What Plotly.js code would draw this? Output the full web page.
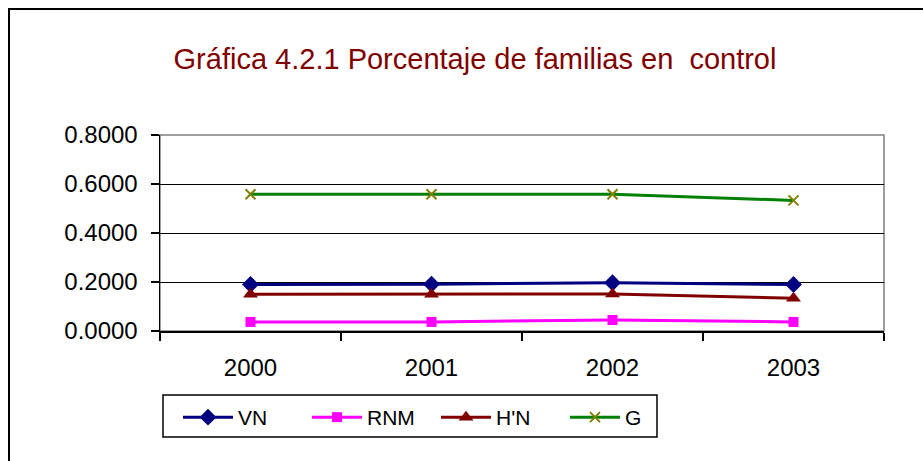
<!DOCTYPE html>
<html>
<head>
<meta charset="utf-8">
<script src="https://cdn.plot.ly/plotly-3.0.1.min.js"></script>
<style>html,body{margin:0;padding:0;background:#fff;}#chart{width:923px;height:461px;}</style>
</head>
<body>
<div id="chart"></div>
<script>
var years = ["2000", "2001", "2002", "2003"];
var vn  = [0.190, 0.191, 0.197, 0.190];
var rnm = [0.037, 0.037, 0.045, 0.037];
var hn  = [0.150, 0.150, 0.151, 0.134];
var g   = [0.558, 0.558, 0.558, 0.533];
var seriesNames = ["VN", "RNM", "H'N", "G"];
var titleText = "Gráfica 4.2.1 Porcentaje de familias en  control";

var W = 923, H = 461, L = 160, R = 39, T = 135, B = 130;
var pw = W - L - R, ph = H - T - B;
function px(x){ return (x - L) / pw; }
function py(y){ return (H - B - y) / ph; }

var FONT = "Liberation Sans, Arial, sans-serif";
var traces = [
  {x: years, y: vn, name: seriesNames[0], mode: "lines+markers",
   line: {color: "#000080", width: 3},
   marker: {symbol: "diamond", size: 13, color: "#000080"}},
  {x: years, y: rnm, name: seriesNames[1], mode: "lines+markers",
   line: {color: "#FF00FF", width: 3},
   marker: {symbol: "square", size: 10, color: "#FF00FF"}},
  {x: years, y: hn, name: seriesNames[2], mode: "lines+markers",
   line: {color: "#800000", width: 3},
   marker: {symbol: "triangle-up", size: 13, color: "#800000"}},
  {x: years, y: g, name: seriesNames[3], mode: "lines+markers",
   line: {color: "#008000", width: 3},
   marker: {symbol: "x-thin", size: 10, color: "#808000", line: {color: "#808000", width: 2}}}
];

var layout = {
  width: W, height: H,
  margin: {l: L, r: R, t: T, b: B, pad: 0, autoexpand: false},
  paper_bgcolor: "#fff", plot_bgcolor: "#fff",
  font: {family: FONT, color: "#000", size: 24},
  title: {text: titleText, font: {family: FONT, size: 29, color: "#800000"},
          x: 475 / W, xanchor: "center", xref: "container",
          y: 1 - 59 / H, yanchor: "middle", yref: "container"},
  showlegend: true,
  legend: {orientation: "h", x: px(178), y: py(397), xanchor: "left", yanchor: "top",
           borderwidth: 0, bgcolor: "rgba(0,0,0,0)",
           font: {family: FONT, size: 21, color: "#000"},
           itemwidth: 50, entrywidth: 64, entrywidthmode: "pixels",
           tracegroupgap: 0},
  xaxis: {type: "category", range: [-0.5, 3.5], tickson: "boundaries", ticks: "outside", ticklen: 8,
          tickcolor: "#000", tickwidth: 1.5, showline: true, linecolor: "#000", linewidth: 1.5,
          showgrid: false, zeroline: false, fixedrange: true, automargin: false,
          ticklabelstandoff: 15,
          tickfont: {family: FONT, size: 24, color: "#000"}},
  yaxis: {range: [0, 0.8], dtick: 0.2, tick0: 0, tickformat: ".4f", ticks: "outside", ticklen: 8,
          tickcolor: "#000", tickwidth: 1.5, showline: true, linecolor: "#000", linewidth: 1.5,
          showgrid: true, gridcolor: "#000", gridwidth: 1, zeroline: false, fixedrange: true,
          automargin: false, ticklabelstandoff: 8,
          tickfont: {family: FONT, size: 24, color: "#000"}},
  shapes: [
    {type: "rect", xref: "paper", yref: "paper", x0: 0, x1: 1, y0: 0, y1: 1,
     line: {color: "#808080", width: 1.5}, layer: "below"},
    {type: "rect", xref: "paper", yref: "paper", x0: px(163), x1: px(657), y0: py(395), y1: py(437),
     line: {color: "#000", width: 1.5}, layer: "above"},
    {type: "rect", xref: "paper", yref: "paper", x0: px(9), x1: px(960), y0: py(9), y1: py(490),
     line: {color: "#000", width: 2}, layer: "above"}
  ]
};

Plotly.newPlot("chart", traces, layout, {displayModeBar: false, staticPlot: true});
</script>
</body>
</html>
